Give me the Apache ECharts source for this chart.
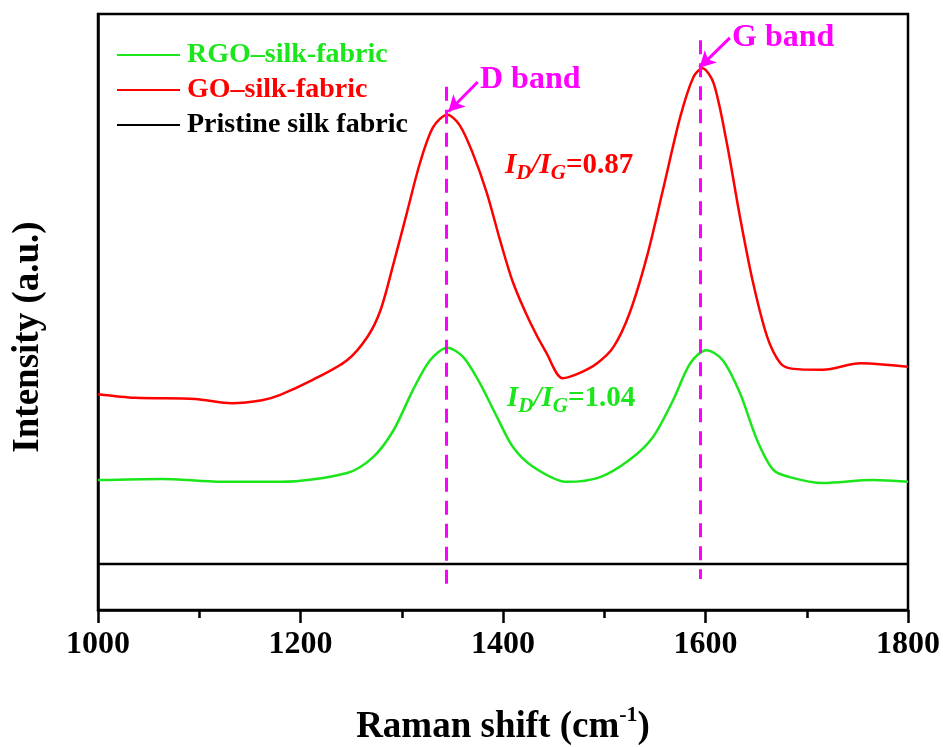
<!DOCTYPE html>
<html>
<head>
<meta charset="utf-8">
<script src="https://cdn.jsdelivr.net/npm/echarts@6/dist/echarts.min.js"></script>
<style>
html,body{margin:0;padding:0;background:#fff;overflow:hidden;}
#chart{width:943px;height:747px;}
</style>
</head>
<body>
<div id="chart"></div>
<script>
// ---- data ----
const seriesNames = ['RGO\u2013silk-fabric', 'GO\u2013silk-fabric', 'Pristine silk fabric'];
const xTicks = [1000, 1200, 1400, 1600, 1800];

const rgoShift = [1000,1063,1122,1180,1246,1272,1292,1311,1328,1345,1361,1377,1394,1410,1430,1463,1496,1525,1548,1568,1585,1601,1617,1634,1651,1667,1683,1716,1765,1800];
const rgoIntensity = [21.8,22.0,21.5,21.5,23.0,25.7,30.2,36.9,41.9,44.0,42.4,38.1,32.4,27.3,24.0,21.5,22.3,25.2,29.0,35.2,41.4,43.6,41.9,36.4,28.5,23.5,22.3,21.3,21.8,21.5];

const goShift = [1000,1037,1096,1132,1162,1180,1212,1246,1266,1279,1292,1305,1318,1331,1345,1357,1370,1384,1397,1410,1427,1443,1459,1476,1493,1509,1525,1542,1558,1575,1588,1597,1608,1621,1634,1647,1661,1674,1685,1716,1753,1800];
const goIntensity = [36.2,35.6,35.4,34.7,35.2,36.1,38.6,41.9,45.8,50.3,58.2,66.6,75.0,81.0,83.1,81.4,76.7,70.0,62.1,54.9,48.2,43.1,38.9,39.8,41.4,44.1,49.8,59.2,70.5,82.7,89.4,90.9,88.4,78.4,66.0,54.9,45.8,41.4,40.5,40.3,41.4,40.8];

const pristineShift = [1000, 1800];
const pristineIntensity = [7.7, 7.7];

const dBand = 1344, gBand = 1595;
const ratioGO = '0.87', ratioRGO = '1.04';

// ---- chart ----
const FONT = '"Liberation Serif","Times New Roman",serif';
const GREEN = '#1be61b', RED = '#ff0000', MAG = '#ff00ff';
const zip = (xs, ys) => xs.map((x, i) => [x, ys[i]]);

const chart = echarts.init(document.getElementById('chart'), null, {renderer: 'canvas'});

const ratioRich = (color) => ({
  i: {fontFamily: FONT, fontWeight: 'bold', fontStyle: 'italic', fontSize: 29, lineHeight: 28, fill: color, verticalAlign: 'top'},
  n: {fontFamily: FONT, fontWeight: 'bold', fontSize: 29, lineHeight: 28, fill: color, verticalAlign: 'top'},
  s: {fontFamily: FONT, fontWeight: 'bold', fontStyle: 'italic', fontSize: 21, lineHeight: 21, padding: [16, 0, 0, 0], fill: color}
});

const option = {
  animation: false,
  backgroundColor: '#fff',
  grid: {left: 98, right: 35, top: 14, bottom: 137, containLabel: false, outerBoundsMode: 'none',
    show: true, borderColor: '#000', borderWidth: 2.5, backgroundColor: 'transparent'},
  legend: {
    orient: 'vertical', left: 112, top: 36, itemWidth: 63, itemHeight: 14, itemGap: 7,
    icon: 'path://M0,6 L63,6 L63,8 L0,8 Z',
    data: [
      {name: seriesNames[0], textStyle: {color: GREEN}},
      {name: seriesNames[1], textStyle: {color: RED}},
      {name: seriesNames[2], textStyle: {color: '#000'}}
    ],
    textStyle: {fontFamily: FONT, fontWeight: 'bold', fontSize: 28, padding: [0, 0, 0, 2]},
    selectedMode: false
  },
  xAxis: {
    type: 'value', min: xTicks[0], max: xTicks[xTicks.length - 1], interval: 200,
    name: 'Raman shift (cm{sup|-1})', nameLocation: 'middle', nameGap: 99,
    nameTextStyle: {fontFamily: FONT, fontWeight: 'bold', fontSize: 37, color: '#000',
      rich: {sup: {fontFamily: FONT, fontWeight: 'bold', fontSize: 22, lineHeight: 22, padding: [0, 0, 24, 0], color: '#000'}}},
    axisLine: {show: true, lineStyle: {color: '#000', width: 2.5}},
    axisTick: {show: true, inside: false, length: 13, lineStyle: {color: '#000', width: 2.5}},
    minorTick: {show: true, splitNumber: 2, length: 8, lineStyle: {color: '#000', width: 2.5}},
    axisLabel: {fontFamily: FONT, fontWeight: 'bold', fontSize: 32, color: '#000', margin: 19, formatter: (v) => String(v)},
    splitLine: {show: false}
  },
  yAxis: {
    type: 'value', min: 0, max: 100,
    name: 'Intensity (a.u.)', nameLocation: 'middle', nameRotate: 90, nameGap: 51,
    nameTextStyle: {fontFamily: FONT, fontWeight: 'bold', fontSize: 37, color: '#000', padding: [0, 50, 0, 0]},
    axisLine: {show: true, lineStyle: {color: '#000', width: 2.5}},
    axisTick: {show: false}, axisLabel: {show: false}, splitLine: {show: false}
  },
  series: [
    {name: seriesNames[0], type: 'line', data: zip(rgoShift, rgoIntensity), smooth: 0.3, symbol: 'none',
      lineStyle: {color: GREEN, width: 2.5}, itemStyle: {color: GREEN}, z: 3},
    {name: seriesNames[1], type: 'line', data: zip(goShift, goIntensity), smooth: 0.3, symbol: 'none',
      lineStyle: {color: RED, width: 2.5}, itemStyle: {color: RED}, z: 3},
    {name: seriesNames[2], type: 'line', data: zip(pristineShift, pristineIntensity), symbol: 'none',
      lineStyle: {color: '#000', width: 2.5}, itemStyle: {color: '#000'}, z: 3,
      markLine: {
        silent: true, animation: false, label: {show: false},
        data: [
          [{coord: [dBand, 87.8], symbol: 'none', lineStyle: {color: MAG, width: 3, type: [14, 9]}}, {coord: [dBand, 3.0], symbol: 'none'}],
          [{coord: [gBand, 95.6], symbol: 'none', lineStyle: {color: MAG, width: 3, type: [14, 9]}}, {coord: [gBand, 5.2], symbol: 'none'}],
          [{coord: [1375, 88.6], symbol: 'none', lineStyle: {color: MAG, width: 3, type: 'solid'}}, {coord: [1346, 83.6], symbol: 'arrow', symbolSize: [13, 16]}],
          [{coord: [1624, 96.0], symbol: 'none', lineStyle: {color: MAG, width: 3, type: 'solid'}}, {coord: [1594, 91.0], symbol: 'arrow', symbolSize: [13, 16]}]
        ]
      }}
  ],
  graphic: [
    {type: 'text', left: 480, top: 64, style: {text: 'D band', fill: MAG, font: 'bold 32px ' + FONT}},
    {type: 'text', left: 732, top: 22, style: {text: 'G band', fill: MAG, font: 'bold 32px ' + FONT}},
    {type: 'text', left: 505, top: 147, style: {text: '{i|I}{s|D}{i|/I}{s|G}{n|=' + ratioGO + '}', rich: ratioRich(RED)}},
    {type: 'text', left: 507, top: 380, style: {text: '{i|I}{s|D}{i|/I}{s|G}{n|=' + ratioRGO + '}', rich: ratioRich(GREEN)}}
  ]
};
chart.setOption(option);
</script>
</body>
</html>
